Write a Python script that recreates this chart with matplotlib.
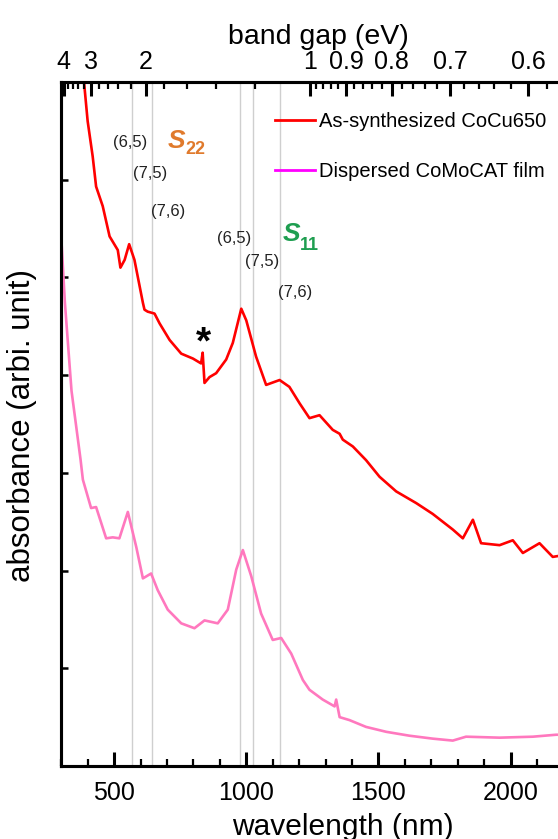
import numpy as np
import matplotlib.pyplot as plt
from matplotlib.lines import Line2D
from matplotlib.ticker import MultipleLocator, FixedLocator, NullLocator

plt.rcParams['font.family'] = ['Liberation Sans', 'DejaVu Sans']

# as-synthesized CoCu650 (red curve), wavelength in nm
wl_cocu = [380, 388, 400, 419, 432, 457, 483, 514, 524, 540, 557, 577, 609, 615, 627, 653, 672,
           710, 754, 798, 829, 835, 842, 861, 886, 924, 949, 981, 1000, 1037, 1075,
           1126, 1163, 1202, 1239, 1277, 1327, 1353, 1365, 1403, 1453, 1504, 1567,
           1643, 1705, 1781, 1819, 1857, 1888, 1958, 2008, 2046, 2109, 2159, 2250]
abs_cocu = [7.20, 6.95, 6.60, 6.24, 5.93, 5.73, 5.42, 5.28, 5.10, 5.18, 5.34, 5.18, 4.74, 4.67,
            4.65, 4.63, 4.53, 4.36, 4.22, 4.17, 4.12, 4.23, 3.92, 3.98, 4.02, 4.16, 4.33,
            4.68, 4.56, 4.19, 3.90, 3.95, 3.88, 3.71, 3.56, 3.59, 3.44, 3.40, 3.34, 3.27,
            3.13, 2.96, 2.81, 2.69, 2.58, 2.42, 2.33, 2.52, 2.28, 2.26, 2.31, 2.18, 2.28,
            2.14, 2.18]

# dispersed CoMoCAT film (pink curve)
wl_como = [300, 314, 339, 373, 382, 413, 432, 470, 495, 520, 552, 584, 609, 640, 665,
           703, 754, 804, 842, 892, 930, 962, 987, 1019, 1056, 1100, 1132, 1170, 1214,
           1239, 1289, 1334, 1340, 1353, 1390, 1453, 1529, 1617, 1705, 1781, 1831,
           1958, 2084, 2172, 2250]
abs_como = [5.42, 4.74, 3.84, 3.14, 2.93, 2.64, 2.65, 2.33, 2.34, 2.33, 2.60, 2.24, 1.92,
            1.97, 1.80, 1.60, 1.46, 1.41, 1.49, 1.46, 1.60, 2.01, 2.21, 1.94, 1.56, 1.29,
            1.31, 1.15, 0.88, 0.78, 0.68, 0.61, 0.68, 0.50, 0.47, 0.40, 0.35, 0.31, 0.28,
            0.26, 0.30, 0.29, 0.30, 0.32, 0.32]

# transition positions marked with grey lines (nm)
peak_lines = [567, 645, 976, 1024, 1127]

# chirality labels: text, wavelength, absorbance
chiral_text = ['(6,5)', '(7,5)', '(7,6)', '(6,5)', '(7,5)', '(7,6)']
chiral_wl = [562, 637, 704, 953, 1059, 1185]
chiral_y = [6.38, 6.06, 5.67, 5.40, 5.16, 4.85]

wl_ticks = [500, 1000, 1500, 2000]

# top axis (band gap, eV)
ev_major = [4, 3, 2, 1, 0.9, 0.8, 0.7, 0.6]
ev_labels = ['4', '3', '2', '1', '0.9', '0.8', '0.7', '0.6']
ev_minor = [3.8, 3.6, 3.4, 3.2, 2.8, 2.6, 2.4, 2.2, 1.8, 1.6, 1.4, 1.2,
            0.98, 0.96, 0.94, 0.92, 0.88, 0.86, 0.84, 0.82, 0.78, 0.76, 0.74, 0.72,
            0.68, 0.66, 0.64, 0.62, 0.58, 0.56, 0.54, 0.52]

fig = plt.figure(figsize=(5.58, 8.39), dpi=100)
ax = fig.add_axes([61.2 / 558, 73 / 839, 581.7 / 558, 684 / 839])

for w in peak_lines:
    ax.axvline(w, color='#cfcfcf', lw=1.0, zorder=1)

ax.plot(wl_como, abs_como, color='#ff78be', lw=1.9, zorder=3)
ax.plot(wl_cocu, abs_cocu, color='#ff0000', lw=1.9, zorder=3)

ax.set_xlim(300, 2500)
ax.set_ylim(0, 7)
ax.set_xticks(wl_ticks)
ax.xaxis.set_minor_locator(MultipleLocator(100))
ax.set_yticks(range(1, 7))
ax.yaxis.set_minor_locator(NullLocator())
ax.tick_params(axis='y', direction='in', length=5, width=1.8, labelleft=False, right=False)
ax.tick_params(axis='x', which='both', direction='in', top=False, labelsize=18, pad=11)
ax.tick_params(axis='x', which='major', length=10, width=2.2)
ax.tick_params(axis='x', which='minor', length=5, width=1.6)
ax.set_xlabel('wavelength (nm)', fontsize=21.5)
ax.xaxis.set_label_coords((343 - 61.2) / 581.7, -47 / 684)

top = ax.twiny()
top.set_xlim(ax.get_xlim())
top.set_xticks([1240 / e for e in ev_major])
top.set_xticklabels(ev_labels)
top.xaxis.set_minor_locator(FixedLocator([1240 / e for e in ev_minor]))
top.tick_params(axis='x', which='both', direction='in', labelsize=18, pad=6)
top.tick_params(axis='x', which='major', length=10, width=2.2)
top.tick_params(axis='x', which='minor', length=5, width=1.6)
top.set_xlabel('band gap (eV)', fontsize=20.5)
top.xaxis.set_label_coords((318 - 61.2) / 581.7, 1 + 38 / 684)

for a in (ax, top):
    for s in a.spines.values():
        s.set_linewidth(2.2)

fig.text(22 / 558, 1 - 426 / 839, 'absorbance (arbi. unit)', rotation=90,
         ha='center', va='center', fontsize=22.5)

for t, w, y in zip(chiral_text, chiral_wl, chiral_y):
    ax.text(w, y, t, ha='center', va='center', fontsize=12, color='#222222', zorder=4)

ax.text(703, 6.32, 'S', fontsize=19, fontweight='bold', fontstyle='italic',
        color='#e07a2c', ha='left', va='baseline')
ax.text(768, 6.26, '22', fontsize=13, fontweight='bold', color='#e07a2c',
        ha='left', va='baseline')
ax.text(1138, 5.37, 'S', fontsize=19, fontweight='bold', fontstyle='italic',
        color='#1e9e50', ha='left', va='baseline')
ax.text(1203, 5.28, '11', fontsize=13, fontweight='bold', color='#1e9e50',
        ha='left', va='baseline')
ax.text(839, 4.32, '*', fontsize=28, fontweight='bold', ha='center', va='center', zorder=4)

handles = [Line2D([], [], color='#ff0000', lw=2),
           Line2D([], [], color='#ff00ff', lw=2)]
ax.legend(handles, ['As-synthesized CoCu650', 'Dispersed CoMoCAT film'],
          loc='upper left', bbox_to_anchor=(275 / 558, 1 - 112 / 839),
          bbox_transform=fig.transFigure, frameon=False, fontsize=14.5,
          handlelength=2.0, handletextpad=0.2, labelspacing=1.55,
          borderpad=0, borderaxespad=0)

fig.savefig('out.png', dpi=100)
